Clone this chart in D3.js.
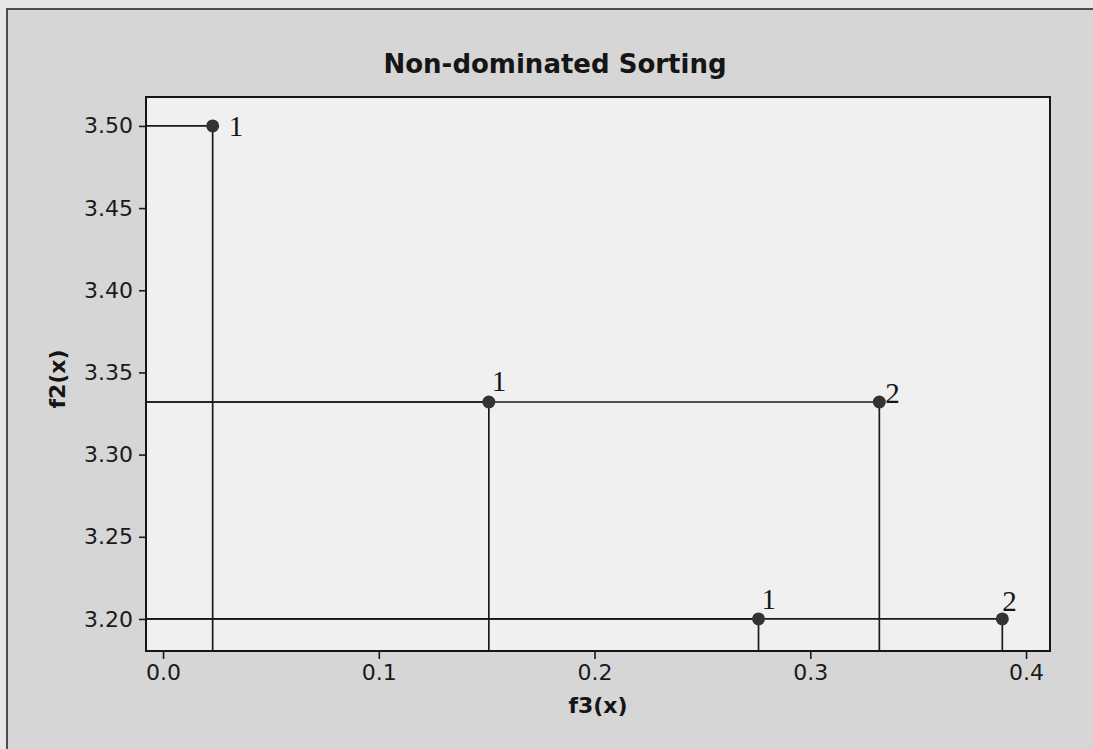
<!DOCTYPE html>
<html>
<head>
<meta charset="utf-8">
<script src="https://cdn.jsdelivr.net/npm/d3@7"></script>
<style>
  body { margin: 0; background: #e6e6e6; }
  svg { display: block; }
</style>
</head>
<body>
<div id="chart"></div>
<script>
// points
var f3 = [0.023, 0.151, 0.332, 0.276, 0.389];
var f2 = [3.50, 3.332, 3.332, 3.20, 3.20];
var rank = ["1", "1", "2", "1", "2"];
var xTicks = [0.0, 0.1, 0.2, 0.3, 0.4];
var yTicks = [3.20, 3.25, 3.30, 3.35, 3.40, 3.45, 3.50];

// where each rank label sits relative to its dot
var labelOffset = [[16, 10], [3, -11], [6, 1], [3, -10], [0, -8]];

var w = 1093, h = 749;
var plotLeft = 146, plotRight = 1050, plotTop = 97, plotBottom = 651;

var svg = d3.select("#chart")
    .append("svg")
    .attr("width", w)
    .attr("height", h);

// outer panel
svg.append("rect")
    .attr("x", 7)
    .attr("y", 9)
    .attr("width", w + 10)
    .attr("height", h + 10)
    .attr("fill", "#d6d6d6")
    .attr("stroke", "#2a2a2a")
    .attr("stroke-width", 1.6);

// plot area
svg.append("rect")
    .attr("x", plotLeft)
    .attr("y", plotTop)
    .attr("width", plotRight - plotLeft)
    .attr("height", plotBottom - plotTop)
    .attr("fill", "#f0f0f0");

var x = d3.scaleLinear().domain([-0.0079, 0.4111]).range([plotLeft, plotRight]);
var y = d3.scaleLinear().domain([3.1805, 3.5176]).range([plotBottom, plotTop]);

svg.append("text")
    .attr("x", 555)
    .attr("y", 73)
    .attr("text-anchor", "middle")
    .style("font-family", "DejaVu Sans")
    .style("font-size", "26px")
    .attr("font-weight", "bold")
    .attr("fill", "#151515")
    .text("Non-dominated Sorting");

var xAxis = svg.append("g")
    .attr("transform", "translate(0," + plotBottom + ")")
    .call(d3.axisBottom(x).tickValues(xTicks).tickFormat(d3.format(".1f")).tickSize(8).tickPadding(5));

var yAxis = svg.append("g")
    .attr("transform", "translate(" + plotLeft + ",0)")
    .call(d3.axisLeft(y).tickValues(yTicks).tickFormat(d3.format(".2f")).tickSize(7).tickPadding(6));

[xAxis, yAxis].forEach(function(a) {
    a.select(".domain").remove();
    a.selectAll(".tick line").attr("stroke", "#1a1a1a").attr("stroke-width", 1.6);
    a.selectAll(".tick text")
        .style("font-family", "DejaVu Sans")
        .style("font-size", "22px")
        .attr("fill", "#1a1a1a");
});

svg.append("text")
    .attr("x", (plotLeft + plotRight) / 2)
    .attr("y", 713)
    .attr("text-anchor", "middle")
    .style("font-family", "DejaVu Sans")
    .style("font-size", "22px")
    .attr("font-weight", "bold")
    .attr("fill", "#151515")
    .text("f3(x)");

svg.append("text")
    .attr("transform", "translate(65,379) rotate(-90)")
    .attr("text-anchor", "middle")
    .style("font-family", "DejaVu Sans")
    .style("font-size", "22px")
    .attr("font-weight", "bold")
    .attr("fill", "#151515")
    .text("f2(x)");

var idx = d3.range(f3.length);

// horizontal line from the left edge to each point
svg.selectAll(".hline")
    .data(idx).enter()
    .append("line")
    .attr("class", "hline")
    .attr("x1", plotLeft)
    .attr("x2", function(i) { return x(f3[i]); })
    .attr("y1", function(i) { return y(f2[i]); })
    .attr("y2", function(i) { return y(f2[i]); })
    .attr("stroke", "#1a1a1a")
    .attr("stroke-width", 1.7);

// vertical line from each point down to the bottom
svg.selectAll(".vline")
    .data(idx).enter()
    .append("line")
    .attr("class", "vline")
    .attr("x1", function(i) { return x(f3[i]); })
    .attr("x2", function(i) { return x(f3[i]); })
    .attr("y1", function(i) { return y(f2[i]); })
    .attr("y2", plotBottom)
    .attr("stroke", "#1a1a1a")
    .attr("stroke-width", 1.7);

svg.selectAll(".dot")
    .data(idx).enter()
    .append("circle")
    .attr("class", "dot")
    .attr("cx", function(i) { return x(f3[i]); })
    .attr("cy", function(i) { return y(f2[i]); })
    .attr("r", 6.5)
    .attr("fill", "#333");

svg.selectAll(".rank")
    .data(idx).enter()
    .append("text")
    .attr("class", "rank")
    .attr("x", function(i) { return x(f3[i]) + labelOffset[i][0]; })
    .attr("y", function(i) { return y(f2[i]) + labelOffset[i][1]; })
    .style("font-family", "Liberation Serif")
    .style("font-size", "29px")
    .attr("fill", "#151515")
    .text(function(i) { return rank[i]; });

// plot frame on top
svg.append("rect")
    .attr("x", plotLeft)
    .attr("y", plotTop)
    .attr("width", plotRight - plotLeft)
    .attr("height", plotBottom - plotTop)
    .attr("fill", "none")
    .attr("stroke", "#151515")
    .attr("stroke-width", 2);
</script>
</body>
</html>
